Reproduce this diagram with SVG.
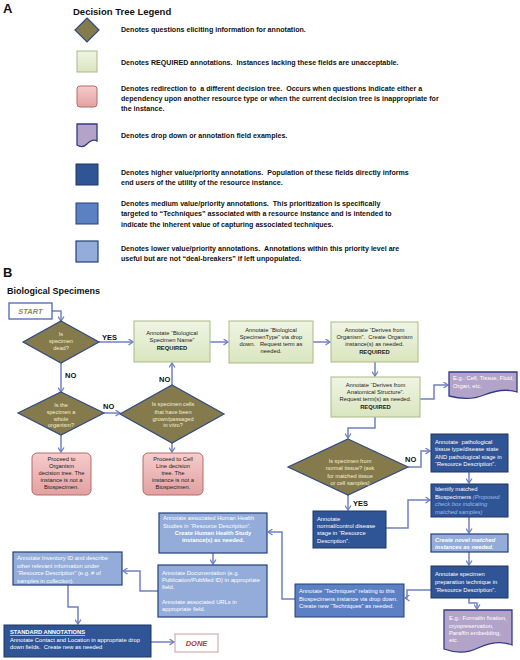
<svg xmlns="http://www.w3.org/2000/svg" width="520" height="660" viewBox="0 0 520 660">
<style>
text{font-family:"Liberation Sans",Arial,sans-serif}
.hd{font-weight:bold;fill:#111}
.lg{font-size:7.1px;font-weight:bold;fill:#111}
.t{font-size:5.8px;fill:#222}
.tc{font-size:5.8px;fill:#222;text-anchor:middle}
.w{font-size:5.8px;fill:#fff}
.wc{font-size:5.8px;fill:#fff;text-anchor:middle}
.dt{font-size:5.6px;fill:#f3efd2;text-anchor:middle}
.b{font-weight:bold}
.lab{font-size:7.5px;font-weight:bold;fill:#111}
.dia{fill:#857a4b;stroke:#2f4a86;stroke-width:1.2}
.grn{fill:url(#gg);stroke:#a9ba86;stroke-width:1}
.pnk{fill:url(#pg);stroke:#b46a6a;stroke-width:1}
.pur{fill:#b4a3c9;stroke:#2f3d86;stroke-width:1.3}
.dk{fill:#2f5597;stroke:#1f3763;stroke-width:1}
.md{fill:#5b80c4;stroke:#24407a;stroke-width:1}
.lt{fill:#93acd9;stroke:#24407a;stroke-width:1.2}
.cn path{fill:none;stroke:#6f80c2;stroke-width:1.5;marker-end:url(#ah)}
</style>
<defs>
<linearGradient id="gg" x1="0" y1="0" x2="0" y2="1"><stop offset="0" stop-color="#f0f5e4"/><stop offset="1" stop-color="#d9e5bf"/></linearGradient>
<linearGradient id="pg" x1="0" y1="0" x2="0" y2="1"><stop offset="0" stop-color="#f6cccc"/><stop offset="1" stop-color="#e3a0a0"/></linearGradient>
<marker id="ah" markerWidth="7" markerHeight="7" refX="5.5" refY="3.5" orient="auto" markerUnits="userSpaceOnUse"><path d="M1,0.5 L5.5,3.5 L1,6.5" fill="none" stroke="#6f80c2" stroke-width="1.3"/></marker>
</defs>

<g id="legend">
<text x="3" y="13" class="hd" font-size="13">A</text>
<text x="73" y="15" class="hd" font-size="9.5">Decision Tree Legend</text>
<polygon class="dia" points="87,18 99,30 87,42 75,30"/>
<text x="121" y="31.5" class="lg">Denotes questions eliciting information for annotation.</text>
<rect class="grn" x="77" y="51" width="20" height="21"/>
<text x="121" y="64.5" class="lg">Denotes REQUIRED annotations. &#160;Instances lacking these fields are unacceptable.</text>
<rect class="pnk" x="77" y="86" width="20" height="21" rx="3"/>
<text class="lg"><tspan x="121" y="90.5">Denotes redirection to &#160;a different decision tree. &#160;Occurs when questions indicate either a</tspan><tspan x="121" y="101">dependency upon another resource type or when the current decision tree is inappropriate for</tspan><tspan x="121" y="111">the instance.</tspan></text>
<path class="pur" d="M77,124 H97 V141 C94,139 90,141 87,144 C84,147 80,147 77,145 Z"/>
<text x="121" y="138" class="lg">Denotes drop down or annotation field examples.</text>
<rect class="dk" x="76" y="164" width="22" height="21"/>
<text class="lg"><tspan x="121" y="174.5">Denotes higher value/priority annotations. &#160;Population of these fields directly informs</tspan><tspan x="121" y="184.5">end users of the utility of the resource instance.</tspan></text>
<rect class="md" x="76" y="203" width="22" height="21"/>
<text class="lg"><tspan x="121" y="205.5">Denotes medium value/priority annotations. &#160;This prioritization is specifically</tspan><tspan x="121" y="216">targeted to “Techniques” associated with a resource instance and is intended to</tspan><tspan x="121" y="226.5">indicate the inherent value of capturing associated techniques.</tspan></text>
<rect class="lt" x="76" y="241" width="22" height="21"/>
<text class="lg"><tspan x="121" y="251">Denotes lower value/priority annotations. &#160;Annotations within this priority level are</tspan><tspan x="121" y="261">useful but are not “deal-breakers” if left unpopulated.</tspan></text>
</g>

<text x="3" y="277" class="hd" font-size="13">B</text>
<text x="7" y="294" class="hd" font-size="9">Biological Specimens</text>

<g class="cn" id="connectors">
<path d="M52,311 H61 V321"/>
<path d="M99,342 H133"/>
<path d="M210,342 H228"/>
<path d="M313,342 H330"/>
<path d="M375,362 V376"/>
<path d="M420,399 H434 V385 H448"/>
<path d="M375,417 V428 H348 V438"/>
<path d="M61,363 V392"/>
<path d="M104,413 H120"/>
<path d="M172,385 V363"/>
<path d="M61,435 V452"/>
<path d="M172,443 V452"/>
<path d="M408,467 H421 V451 H430"/>
<path d="M348,495 V510"/>
<path d="M386,528 H408 V500 H430"/>
<path d="M469,472 V483"/>
<path d="M469,517 V533"/>
<path d="M469,552 V565"/>
<path d="M469,598 V603 H477 V609"/>
<path d="M431,590 H407 V598 H405"/>
<path d="M295,599 H282 V532 H268"/>
<path d="M213,553 V564"/>
<path d="M158,591 H140 V571 H123"/>
<path d="M68,585 V607 H78 V624"/>
<path d="M151,642 H174"/>
</g>

<g id="labels">
<text x="102" y="340" class="lab">YES</text>
<text x="65" y="378" class="lab">NO</text>
<text x="103" y="409" class="lab">NO</text>
<text x="159" y="382" class="lab">NO</text>
<text x="405" y="462" class="lab">NO</text>
<text x="353" y="506" class="lab">YES</text>
</g>

<g id="start">
<rect x="9" y="303" width="43" height="16" fill="#fff" stroke="#4a67ae" stroke-width="1.3"/>
<text x="30.5" y="314" font-size="7.5" font-weight="bold" font-style="italic" fill="#8a8f3e" text-anchor="middle">START</text>
</g>

<g id="d1">
<polygon class="dia" points="61,321 99,342 61,363 23,342"/>
<text class="dt"><tspan x="61" y="336">Is</tspan><tspan x="61" y="343">specimen</tspan><tspan x="61" y="350">dead?</tspan></text>
</g>

<g id="d2">
<polygon class="dia" points="61,392 104,413 61,435 18,413"/>
<text class="dt"><tspan x="61" y="407">Is the</tspan><tspan x="61" y="414">specimen a</tspan><tspan x="61" y="420.5">whole</tspan><tspan x="61" y="427">organism?</tspan></text>
</g>

<g id="d3">
<polygon class="dia" points="172,385 224,414 172,443 120,414"/>
<text class="dt"><tspan x="173" y="406">Is specimen cells</tspan><tspan x="173" y="413.5">that have been</tspan><tspan x="173" y="420.5">grown/passaged</tspan><tspan x="173" y="427">in vitro?</tspan></text>
</g>

<g id="d4">
<polygon class="dia" points="348,439 408,467 348,495 288,467"/>
<text class="dt"><tspan x="350" y="463">Is specimen from</tspan><tspan x="350" y="470">normal tissue? (ask</tspan><tspan x="350" y="477.5">for matched tissue</tspan><tspan x="350" y="485">or cell samples)</tspan></text>
</g>

<g id="box1">
<rect class="grn" x="134" y="321" width="76" height="41"/>
<text class="tc"><tspan x="172" y="335">Annotate “Biological</tspan><tspan x="172" y="342">Specimen Name”</tspan><tspan x="172" y="349.5" class="b">REQUIRED</tspan></text>
</g>

<g id="box2">
<rect class="grn" x="229" y="321" width="84" height="42"/>
<text class="tc"><tspan x="271" y="331.5">Annotate “Biological</tspan><tspan x="271" y="338.5">SpecimenType” via drop</tspan><tspan x="271" y="345.5">down. &#160; Request term as</tspan><tspan x="271" y="352.5">needed.</tspan></text>
</g>

<g id="box3">
<rect class="grn" x="331" y="322" width="87" height="40"/>
<text class="tc"><tspan x="374.5" y="332">Annotate “Derives from</tspan><tspan x="374.5" y="339">Organism”. &#160;Create Organism</tspan><tspan x="374.5" y="346">instance(s) as needed.</tspan><tspan x="374.5" y="353.5" class="b">REQUIRED</tspan></text>
</g>

<g id="box4">
<rect class="grn" x="331" y="377" width="89" height="40"/>
<text class="tc"><tspan x="375.5" y="387">Annotate “Derives from</tspan><tspan x="375.5" y="394">Anatomical Structure”.</tspan><tspan x="375.5" y="401">Request term(s) as needed.</tspan><tspan x="375.5" y="408.5" class="b">REQUIRED</tspan></text>
</g>

<g id="doc1">
<path class="pur" d="M449,372 H517 V392 C505,388 494,391 484,395 C472,400 460,399 449,396 Z"/>
<text class="w"><tspan x="453" y="380">E.g.: Cell, Tissue, Fluid,</tspan><tspan x="453" y="388">Organ, etc.</tspan></text>
</g>

<g id="pink1">
<rect class="pnk" x="32" y="453" width="59" height="42" rx="5"/>
<text class="tc"><tspan x="61.5" y="461">Proceed to</tspan><tspan x="61.5" y="468">Organism</tspan><tspan x="61.5" y="475">decision tree. The</tspan><tspan x="61.5" y="482">instance is not a</tspan><tspan x="61.5" y="489">Biospecimen.</tspan></text>
</g>

<g id="pink2">
<rect class="pnk" x="143" y="453" width="60" height="42" rx="5"/>
<text class="tc"><tspan x="173" y="461">Proceed to Cell</tspan><tspan x="173" y="468">Line decision</tspan><tspan x="173" y="475">tree. The</tspan><tspan x="173" y="482">instance is not a</tspan><tspan x="173" y="489">Biospecimen.</tspan></text>
</g>

<g id="patho">
<rect class="dk" x="431" y="434" width="77" height="38"/>
<text class="w"><tspan x="435" y="444">Annotate &#160;pathological</tspan><tspan x="435" y="451">tissue type/disease state</tspan><tspan x="435" y="458.5">AND pathological stage in</tspan><tspan x="435" y="466">“Resource Description”.</tspan></text>
</g>

<g id="identify">
<rect class="dk" x="431" y="484" width="77" height="33"/>
<text class="w"><tspan x="435" y="491">Identify matched</tspan><tspan x="435" y="498.5">Biospecimens <tspan font-style="italic" fill="#9cbde8">(Proposed</tspan></tspan><tspan x="435" y="506" font-style="italic" fill="#9cbde8">check box indicating</tspan><tspan x="435" y="513.5" font-style="italic" fill="#9cbde8">matched samples)</tspan></text>
</g>

<g id="normal">
<rect class="dk" x="313" y="511" width="73" height="37"/>
<text class="w"><tspan x="317" y="521">Annotate</tspan><tspan x="317" y="528">normal/control disease</tspan><tspan x="317" y="535">stage in “Resource</tspan><tspan x="317" y="542.5">Description”.</tspan></text>
</g>

<g id="novel">
<rect class="lt" x="431" y="534" width="77" height="18"/>
<text class="w b" font-style="italic"><tspan x="435" y="542">Create novel matched</tspan><tspan x="435" y="549">instances as needed.</tspan></text>
</g>

<g id="prep">
<rect class="dk" x="431" y="566" width="77" height="32"/>
<text class="w"><tspan x="435" y="576">Annotate specimen</tspan><tspan x="435" y="584">preparation technique in</tspan><tspan x="435" y="592">“Resource Description”.</tspan></text>
</g>

<g id="doc2">
<path class="pur" d="M444,610 H512 V645 C500,640 489,643 478,648 C466,654 455,653 444,649 Z"/>
<text class="w"><tspan x="449" y="620">E.g.: Formalin fixation,</tspan><tspan x="449" y="627.5">cryopreservation,</tspan><tspan x="449" y="635">Paraffin embedding,</tspan><tspan x="449" y="642">etc.</tspan></text>
</g>

<g id="techniques">
<rect class="md" x="295" y="584" width="109" height="33"/>
<text class="w"><tspan x="299" y="593">Annotate “Techniques” relating to this</tspan><tspan x="299" y="600.5">Biospecimens instance via drop down.</tspan><tspan x="299" y="608">Create new “Techniques” as needed.</tspan></text>
</g>

<g id="health">
<rect class="lt" x="159" y="513" width="108" height="40"/>
<text class="w"><tspan x="163" y="520">Annotate associated Human Health</tspan><tspan x="163" y="528">Studies in “Resource Description”.</tspan><tspan x="213" y="535" class="b" text-anchor="middle">Create Human Health Study</tspan><tspan x="213" y="542" class="b" text-anchor="middle">instance(s) as needed.</tspan></text>
</g>

<g id="documentation">
<rect class="lt" x="158" y="565" width="109" height="52"/>
<text class="w"><tspan x="162" y="575">Annotate Documentation (e.g.</tspan><tspan x="162" y="582">Publication/PubMed ID) in appropriate</tspan><tspan x="162" y="589">field.</tspan><tspan x="162" y="604">Annotate associated URLs in</tspan><tspan x="162" y="611">appropriate field.</tspan></text>
</g>

<g id="inventory">
<rect class="lt" x="13" y="552" width="109" height="33"/>
<text class="w"><tspan x="17" y="560">Annotate Inventory ID and describe</tspan><tspan x="17" y="567.5">other relevant information under</tspan><tspan x="17" y="575">“Resource Description” (e.g. # of</tspan><tspan x="17" y="582.5">samples in collection).</tspan></text>
</g>

<g id="standard">
<rect class="dk" x="4" y="625" width="147" height="32"/>
<text class="w" font-size="6"><tspan x="10" y="634" class="b" text-decoration="underline">STANDARD ANNOTATIONS</tspan><tspan x="10" y="641.5">Annotate Contact and Location in appropriate drop</tspan><tspan x="10" y="649">down fields. &#160;Create new as needed</tspan></text>
</g>

<g id="done">
<rect x="175" y="634" width="43" height="18" fill="#fff" stroke="#c9a0a0" stroke-width="1"/>
<text x="196.5" y="645.5" font-size="7.5" font-weight="bold" font-style="italic" fill="#c0392b" text-anchor="middle">DONE</text>
</g>
</svg>
